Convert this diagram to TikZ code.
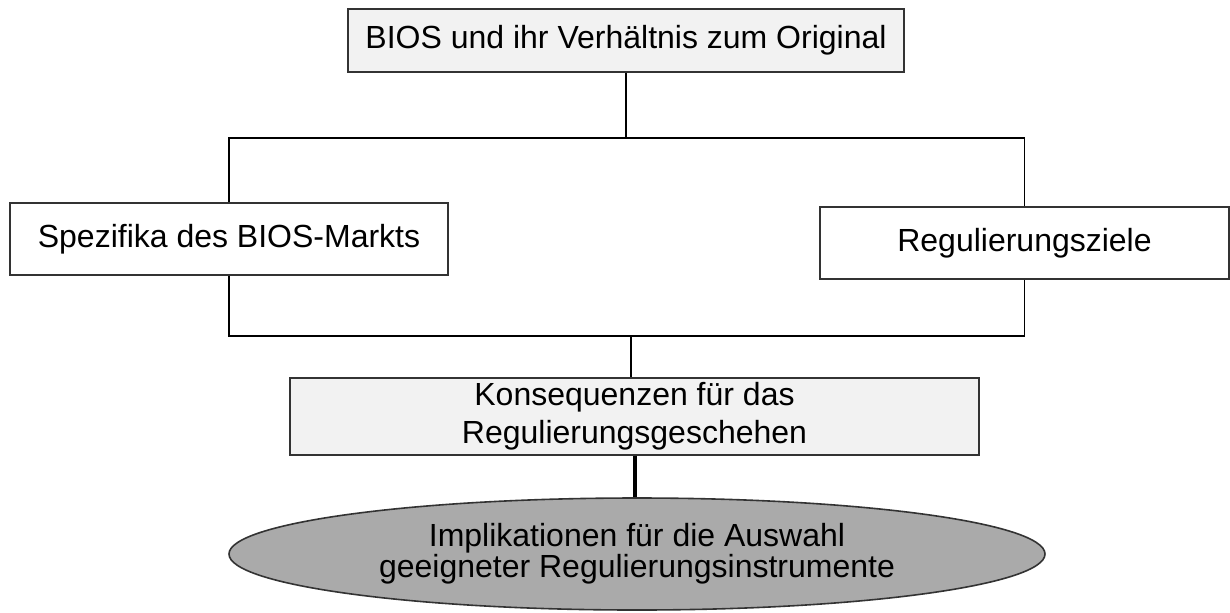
\documentclass[tikz,border=0pt]{standalone}
\usepackage{fontspec}
\setmainfont{Liberation Sans}
\usepackage{tikz}
\usetikzlibrary{shapes}
\definecolor{boxgrey}{HTML}{F2F2F2}
\definecolor{ovalgrey}{HTML}{AAAAAA}
\definecolor{linegrey}{HTML}{333333}

\begin{document}
\begin{tikzpicture}[x=0.5pt,y=-0.5pt,font=\fontsize{16}{19}\selectfont]
\tikzstyle{kbox}=[draw=linegrey,line width=0.7pt,fill=white,rectangle,inner sep=0pt,align=center]
\tikzstyle{kgrey}=[kbox,fill=boxgrey]
\tikzstyle{koval}=[draw=linegrey,line width=0.8pt,fill=ovalgrey,ellipse,inner sep=0pt,align=center,font=\fontsize{16}{15.5}\selectfont]
\tikzstyle{kline}=[draw=black,line width=0.9pt]
\useasboundingbox (0,0) rectangle (1230,612);
\node [kgrey,minimum width=278pt,minimum height=31.5pt] (orig) at (626,40.5) {BIOS und ihr Verhältnis zum Original};
\node [kbox,minimum width=219pt,minimum height=36pt] (spez) at (229,239) {Spezifika des BIOS-Markts};
\node [kbox,minimum width=204.5pt,minimum height=36pt] (ziel) at (1024.5,243) {Regulierungsziele};
\node [kgrey,minimum width=344.5pt,minimum height=38.5pt] (kons) at (634.5,416.5) {Konsequenzen für das\\Regulierungsgeschehen};
\node [koval,minimum width=408pt,minimum height=56pt] (impl) at (637,554) {Implikationen für die Auswahl\\geeigneter Regulierungsinstrumente};

\coordinate (top) at (626,138);
\coordinate (bot) at (631,336);
\path[kline]
(orig) -- (top)
(spez.north) |- (top) -| (ziel.north)
(spez.south) |- (bot) -| (ziel.south);
\draw[black,line width=1.2pt] (bot) -- (bot |- kons.north);
\draw[black,line width=2pt] (kons.south) -- (kons.south |- impl.north);
\end{tikzpicture}
\end{document}
